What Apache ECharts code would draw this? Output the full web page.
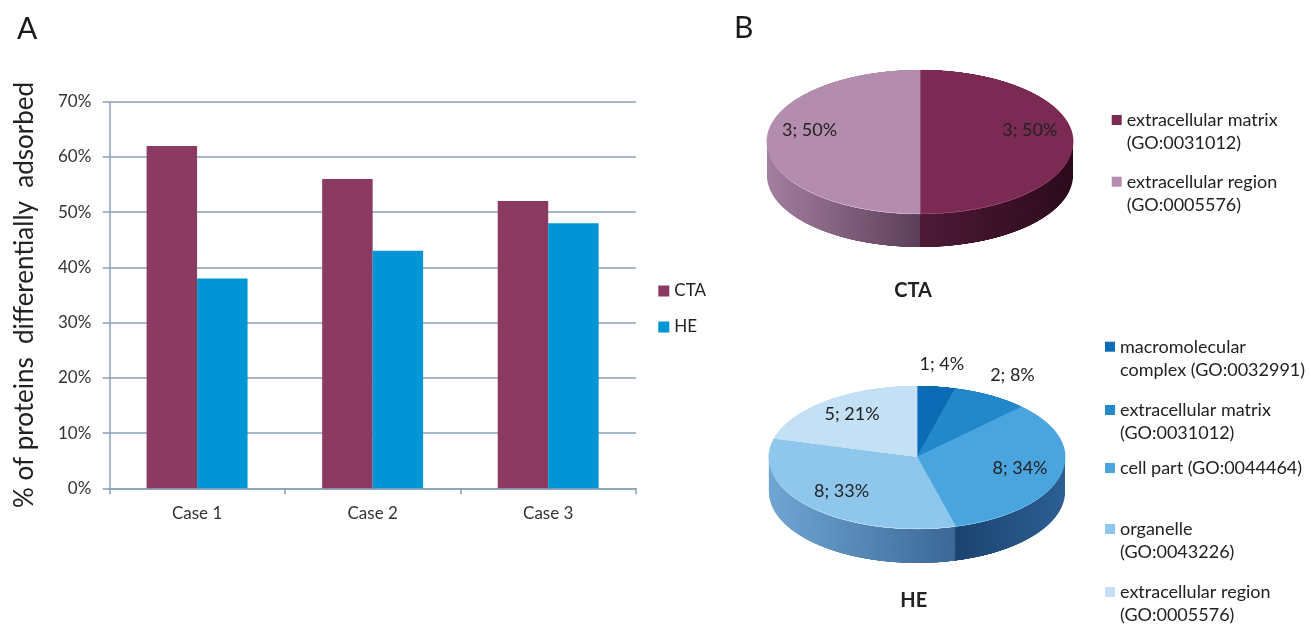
<!DOCTYPE html>
<html>
<head>
<meta charset="utf-8">
<script src="https://cdn.jsdelivr.net/npm/echarts@6/dist/echarts.min.js"></script>
<style>
html, body { margin: 0; padding: 0; background: #ffffff; overflow: hidden; width: 1311px; height: 624px; }
#main { position: absolute; left: 0; top: 0; width: 1311px; height: 624px; z-index: 2; }
.pie3d { position: absolute; transform-origin: 0 0; z-index: 1; }
</style>
</head>
<body>
<div id="ctaPie" class="pie3d"></div>
<div id="hePie" class="pie3d"></div>
<div id="main"></div>
<script>
// ---------- DATA ----------
const categories = ['Case 1', 'Case 2', 'Case 3'];
const ctaValues = [0.62, 0.56, 0.52];
const heValues = [0.38, 0.43, 0.48];
const yTickStep = 0.1;
const yMax = 0.7;

const ctaPieNames = ['extracellular matrix (GO:0031012)', 'extracellular region (GO:0005576)'];
const ctaPieCounts = [3, 3];
const ctaPiePercents = [50, 50];
const ctaLegendText = ['extracellular matrix\n(GO:0031012)', 'extracellular region\n(GO:0005576)'];

const hePieNames = ['macromolecular complex (GO:0032991)', 'extracellular matrix (GO:0031012)',
  'cell part (GO:0044464)', 'organelle (GO:0043226)', 'extracellular region (GO:0005576)'];
const hePieCounts = [1, 2, 8, 8, 5];
const hePiePercents = [4, 8, 34, 33, 21];
const heLegendText = ['macromolecular\ncomplex (GO:0032991)', 'extracellular matrix\n(GO:0031012)',
  'cell part (GO:0044464)', 'organelle\n(GO:0043226)', 'extracellular region\n(GO:0005576)'];

// ---------- STYLE ----------
const FONT = 'Lato';
const TEXT = '#222222';
const AXIS_COLOR = '#8AA0B8';
const BAR_CTA = '#8B3A62';
const BAR_HE = '#0096D6';

const ctaTop = ['#7B2A53', '#B48CAE'];
const ctaRim = ['#964370', '#D3ABCB'];
const ctaSide = [['#4E1B37', '#2C0A1B'], ['#A47FA0', '#5C3F58']];
const heTop = ['#0B6BB4', '#2388CA', '#4AA4DE', '#8EC6EC', '#C3E0F4'];
const heRim = ['#3A8ACB', '#4FA2DA', '#72BAE8', '#B2D9F3', '#DDEEF9'];
const heSide = [['#0A4A80', '#0A4A80'], ['#175E92', '#175E92'], ['#163A63', '#2C5F94'],
  ['#70A6D4', '#3B6896'], ['#A9C8E2', '#A9C8E2']];

// pie geometry (page pixels): center, horizontal radius, vertical squash, side depth
const ctaGeo = { cx: 919.7, cy: 141, R: 153, k: 0.468, depth: 34, labelCy: 130 };
const heGeo = { cx: 917, cy: 457, R: 148, k: 0.48, depth: 35, labelCy: 455 };

function grad(pair) {
  return new echarts.graphic.LinearGradient(0, 0, 1, 0, [
    { offset: 0, color: pair[0] }, { offset: 1, color: pair[1] }
  ]);
}

function draw3DPie(elId, names, counts, topColors, rimColors, sideColors, g) {
  const pad = 6;
  const W = 2 * g.R + 2 * pad;
  const depthU = g.depth / g.k;
  const Hu = 2 * g.R + depthU + 2 * pad;
  const el = document.getElementById(elId);
  el.style.left = (g.cx - W / 2) + 'px';
  el.style.top = (g.cy - (g.R + pad) * g.k) + 'px';
  el.style.width = W + 'px';
  el.style.height = Hu + 'px';
  el.style.transform = 'scaleY(' + g.k + ')';
  const chart = echarts.init(el, null, { devicePixelRatio: 2, width: W, height: Hu });
  const base = {
    type: 'pie', radius: g.R, startAngle: 90, clockwise: true, silent: true,
    label: { show: false }, labelLine: { show: false }, emphasis: { disabled: true }
  };
  const series = [];
  for (let d = depthU; d > 3; d -= 1.5) {
    series.push(Object.assign({}, base, {
      center: [W / 2, g.R + pad + d], z: 1,
      data: counts.map((v, i) => ({ name: names[i], value: v,
        itemStyle: { color: grad(sideColors[i]), borderWidth: 0 } }))
    }));
  }
  series.push(Object.assign({}, base, {
    center: [W / 2, g.R + pad + 2.6], z: 2,
    data: counts.map((v, i) => ({ name: names[i], value: v,
      itemStyle: { color: rimColors[i], borderWidth: 0 } }))
  }));
  series.push(Object.assign({}, base, {
    center: [W / 2, g.R + pad], z: 3,
    data: counts.map((v, i) => ({ name: names[i], value: v,
      itemStyle: { color: topColors[i], borderColor: topColors[i], borderWidth: 0.8 } }))
  }));
  chart.setOption({ animation: false, backgroundColor: 'transparent', series: series });
}

draw3DPie('ctaPie', ctaPieNames, ctaPieCounts, ctaTop, ctaRim, ctaSide, ctaGeo);
draw3DPie('hePie', hePieNames, hePieCounts, heTop, heRim, heSide, heGeo);

// transparent pie used only for value labels, squashed to the ellipse
function labelPie(names, counts, percents, g, rIn, rOut, showFn) {
  return {
    type: 'pie', center: [g.cx, g.labelCy], radius: [rIn * g.R, rOut * g.R],
    startAngle: 90, clockwise: true, silent: true, z: 5,
    itemStyle: { color: 'rgba(0,0,0,0)', borderWidth: 0 },
    emphasis: { disabled: true },
    label: {
      show: true, position: 'inside', rotate: 0, fontSize: 18, fontFamily: FONT, color: TEXT,
      formatter: p => showFn(percents[p.dataIndex]) ? counts[p.dataIndex] + '; ' + percents[p.dataIndex] + '%' : ''
    },
    labelLine: { show: false },
    labelLayout: p => {
      const r = p.labelRect;
      const mx = r.x + r.width / 2, my = r.y + r.height / 2;
      return { x: mx, y: g.labelCy + (my - g.labelCy) * g.k, align: 'center', verticalAlign: 'middle' };
    },
    data: names.map((n, i) => ({ name: n, value: counts[i] }))
  };
}

const LINE_H = 23;
function pieLegend(name, text, color, left, iconCy) {
  const twoLines = text.indexOf('\n') >= 0;
  return {
    orient: 'vertical', left: left, top: iconCy - (twoLines ? 1.5 * LINE_H : 0.5 * LINE_H),
    padding: 0, selectedMode: false, icon: 'rect', itemWidth: 10, itemHeight: 10,
    textStyle: { fontSize: 18, fontFamily: FONT, color: TEXT, lineHeight: LINE_H },
    formatter: () => (twoLines ? '\n' : '') + text,
    data: [{ name: name, itemStyle: { color: color, borderWidth: 0 } }]
  };
}

const ctaLegendY = [120, 181.7];
const heLegendY = [346.7, 410, 468, 529, 592];
const legends = [{
  orient: 'vertical', left: 658.3, top: 282.5, padding: 0, itemGap: 19, selectedMode: false,
  icon: 'rect', itemWidth: 11, itemHeight: 11,
  textStyle: { fontSize: 17, fontFamily: FONT, color: TEXT, lineHeight: 17 },
  data: ['CTA', 'HE']
}];
ctaPieNames.forEach((n, i) => legends.push(pieLegend(n, ctaLegendText[i], ctaTop[i], 1111.7, ctaLegendY[i])));
hePieNames.forEach((n, i) => legends.push(pieLegend(n, heLegendText[i], heTop[i], 1105, heLegendY[i])));

const main = echarts.init(document.getElementById('main'), null, { width: 1311, height: 624 });
main.setOption({
  animation: false,
  backgroundColor: 'transparent',
  textStyle: { fontFamily: FONT },
  graphic: [
    { type: 'text', x: 17, y: 29, style: { text: 'A', fontSize: 30, fontFamily: FONT, fill: '#1a1a1a', align: 'left', verticalAlign: 'middle' } },
    { type: 'text', x: 734, y: 28.5, style: { text: 'B', fontSize: 30, fontFamily: FONT, fill: '#1a1a1a', align: 'left', verticalAlign: 'middle' } },
    { type: 'text', x: 913, y: 291, style: { text: 'CTA', fontSize: 20, fontWeight: 'bold', fontFamily: FONT, fill: TEXT, align: 'center', verticalAlign: 'middle' } },
    { type: 'text', x: 913.7, y: 600.5, style: { text: 'HE', fontSize: 20, fontWeight: 'bold', fontFamily: FONT, fill: TEXT, align: 'center', verticalAlign: 'middle' } }
  ],
  legend: legends,
  grid: { left: 109.3, top: 101.7, width: 526.7, height: 386.6, containLabel: false, outerBoundsMode: 'none' },
  xAxis: {
    type: 'category', data: categories,
    axisLine: { show: true, lineStyle: { color: AXIS_COLOR, width: 1.5 } },
    axisTick: { show: true, length: 6, lineStyle: { color: AXIS_COLOR, width: 1.5 } },
    axisLabel: { fontSize: 17, fontFamily: FONT, color: '#333', margin: 17 },
    splitLine: { show: false }
  },
  yAxis: {
    type: 'value', min: 0, max: yMax, interval: yTickStep,
    name: '% of proteins  differentially  adsorbed', nameLocation: 'middle', nameRotate: 90, nameGap: 72,
    nameTextStyle: { fontSize: 26, fontFamily: FONT, color: TEXT },
    axisLine: { show: true, lineStyle: { color: AXIS_COLOR, width: 1.5 } },
    axisTick: { show: true, length: 6.6, lineStyle: { color: AXIS_COLOR, width: 1.5 } },
    splitLine: { show: true, lineStyle: { color: AXIS_COLOR, width: 1.5 } },
    axisLabel: { fontSize: 17, fontFamily: FONT, color: '#333', margin: 18,
      formatter: v => Math.round(v * 100) + '%' }
  },
  series: [
    { type: 'bar', name: 'CTA', data: ctaValues, itemStyle: { color: BAR_CTA }, barGap: '0%', barCategoryGap: '42.5%', emphasis: { disabled: true } },
    { type: 'bar', name: 'HE', data: heValues, itemStyle: { color: BAR_HE }, barGap: '0%', barCategoryGap: '42.5%', emphasis: { disabled: true } },
    labelPie(ctaPieNames, ctaPieCounts, ctaPiePercents, ctaGeo, 0.4, 1.0, p => true),
    labelPie(hePieNames, hePieCounts, hePiePercents, heGeo, 0.4, 1.0, p => p >= 10),
    labelPie(hePieNames, hePieCounts, hePiePercents, heGeo, 1.04, 1.5, p => p < 10)
  ]
});
</script>
</body>
</html>
